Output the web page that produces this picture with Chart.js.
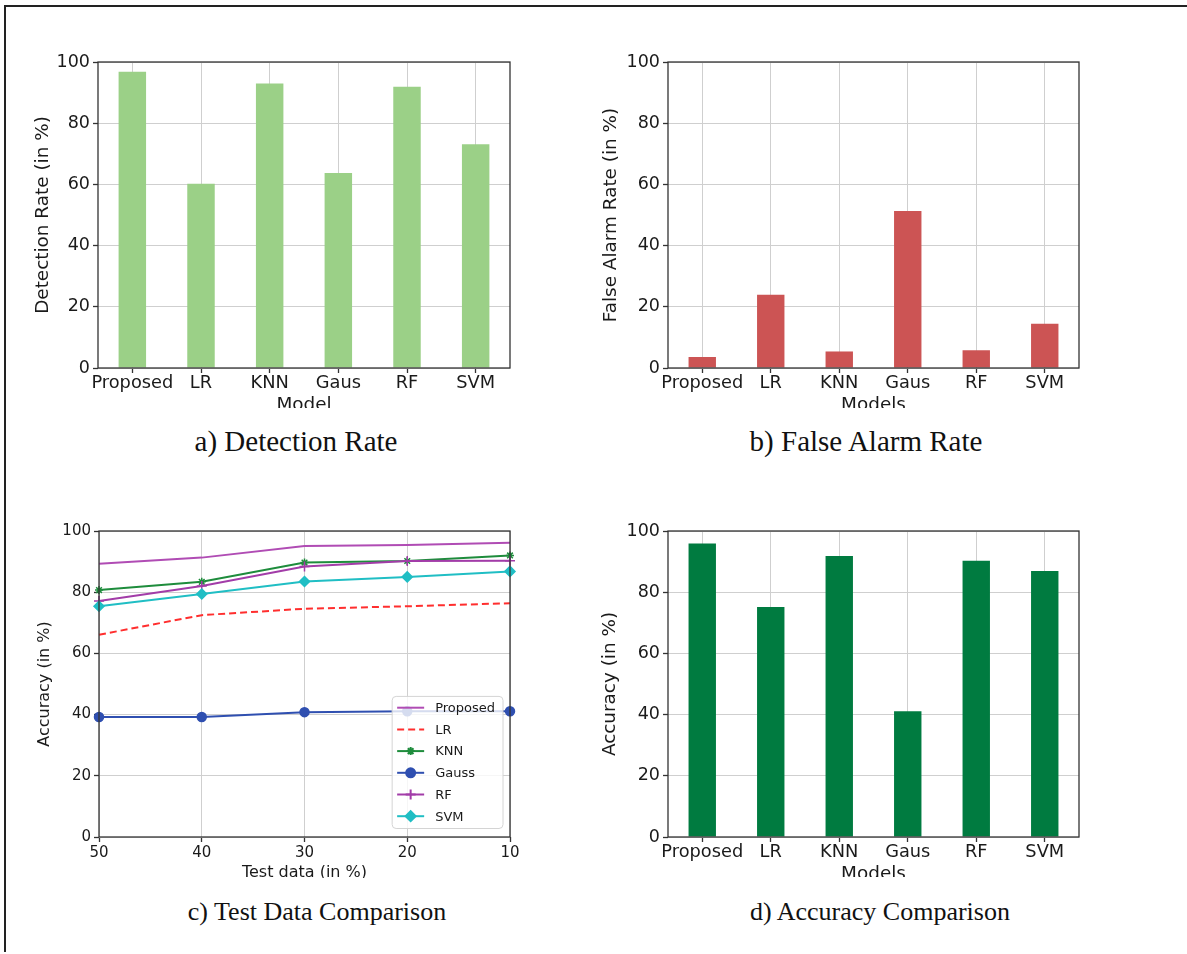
<!DOCTYPE html>
<html>
<head>
<meta charset="utf-8">
<script src="https://cdn.jsdelivr.net/npm/chart.js@4.4.1/dist/chart.umd.min.js"></script>
<style>
	body		{ margin: 0; background: #fff; width: 1187px; height: 954px; position: relative; overflow: hidden; }
	.rule		{ position: absolute; background: #222; }
	.panel		{ position: absolute; overflow: hidden; }
	.panel canvas	{ display: block; }
	.caption	{ position: absolute; font-family: 'Liberation Serif', 'Times New Roman', serif; line-height: 28px;
			  color: #111; white-space: nowrap; transform: translateX( -50% ); }
	.top-row	{ font-size: 29px; }
	.low-row	{ font-size: 26px; }
</style>
</head>
<body>

<div class="rule" style="left:4px; top:5px; width:1183px; height:2px;"></div>
<div class="rule" style="left:4px; top:5px; width:2px; height:947px;"></div>

<div class="panel" style="left:30px;  top:40px;  width:500px; height:368px;"><canvas id="detectChart"   width="500" height="376"></canvas></div>
<div class="panel" style="left:590px; top:40px;  width:500px; height:368px;"><canvas id="falseChart"    width="500" height="376"></canvas></div>
<div class="panel" style="left:30px;  top:510px; width:500px; height:368px;"><canvas id="testChart"     width="500" height="372"></canvas></div>
<div class="panel" style="left:590px; top:510px; width:500px; height:367px;"><canvas id="accuracyChart" width="500" height="375"></canvas></div>

<div class="caption top-row" style="left:296px; top:427px;">a) Detection Rate</div>
<div class="caption top-row" style="left:866px; top:427px;">b) False Alarm Rate</div>
<div class="caption low-row" style="left:317px; top:898px;">c) Test Data Comparison</div>
<div class="caption low-row" style="left:880px; top:898px;">d) Accuracy Comparison</div>

<script>
/****************************
 ****	data
 ****************************/

const	MODELS			= [ 'Proposed', 'LR', 'KNN', 'Gaus', 'RF', 'SVM' ];
const	DETECTION_RATE		= [ 96.8, 60.2, 93.0, 63.7, 91.9, 73.1 ];
const	FALSE_ALARM_RATE	= [  3.6, 23.9,  5.4, 51.3,  5.8, 14.5 ];
const	ACCURACY		= [ 95.9, 75.2, 91.8, 41.1, 90.3, 86.9 ];

const	TEST_SPLIT		= [ '50', '40', '30', '20', '10' ];
const	ACC_PROPOSED		= [ 89.3, 91.3, 95.1, 95.4, 96.2 ];
const	ACC_LR			= [ 66.1, 72.5, 74.6, 75.4, 76.4 ];
const	ACC_KNN			= [ 80.7, 83.4, 89.7, 90.2, 92.0 ];
const	ACC_GAUSS		= [ 39.2, 39.2, 40.8, 41.1, 41.1 ];
const	ACC_RF			= [ 77.1, 82.0, 88.4, 90.2, 90.3 ];
const	ACC_SVM			= [ 75.4, 79.4, 83.5, 85.0, 86.8 ];

const	SERIES_NAMES		= [ 'Proposed', 'LR', 'KNN', 'Gauss', 'RF', 'SVM' ];

const	Y_MIN	= 0;
const	Y_MAX	= 100;
const	Y_STEP	= 20;

const	GRID_COLOR	= '#cfcfcf';
const	TICK_COLOR	= '#333';
const	TEXT_COLOR	= '#1a1a1a';

Chart.defaults.font.family	= "'DejaVu Sans', sans-serif";
Chart.defaults.color		= TEXT_COLOR;

/****************************
 ****	plugins
 ****************************/

//	box round the plot area, like the axes spines
const	axesFrame	= {
	id: 'axesFrame',
	afterDatasetsDraw: function ( chart ) {
		let	a	= chart.chartArea;
		let	ctx	= chart.ctx;

		ctx.save();
		ctx.strokeStyle	= TICK_COLOR;
		ctx.lineWidth	= 1.3;
		ctx.strokeRect( a.left, a.top, a.right - a.left, a.bottom - a.top );
		ctx.restore();
	}
};

//	legend drawn inside the plot area, lower right corner
const	insideLegend	= {
	id: 'insideLegend',
	afterDraw: function ( chart, args, opts ) {
		if ( !opts.display )
			return;

		let	ctx	= chart.ctx;
		let	a	= chart.chartArea;
		let	sets	= chart.data.datasets;
		let	rowH	= 21.7;
		let	sample	= 27;

		ctx.save();
		ctx.font	= "13px 'DejaVu Sans'";

		let	textW	= 0;
		sets.forEach( ds => { textW = Math.max( textW, ctx.measureText( ds.label ).width ); } );

		let	boxW	= 5 + sample + 11 + textW + 8;
		let	boxH	= 11.3 + rowH * ( sets.length - 1 ) + 12.3;
		let	right	= a.right - 7;
		let	bottom	= a.bottom - 8.5;
		let	left	= right - boxW;
		let	top	= bottom - boxH;

		ctx.beginPath();
		ctx.roundRect( left, top, boxW, boxH, 4 );
		ctx.fillStyle	= 'rgba( 255, 255, 255, 0.8 )';
		ctx.fill();
		ctx.strokeStyle	= '#d4d4d4';
		ctx.lineWidth	= 1;
		ctx.stroke();

		sets.forEach( ( ds, i ) => {
			let	y	= top + 11.3 + rowH * i;
			let	x0	= left + 5;

			ctx.save();
			ctx.strokeStyle	= ds.borderColor;
			ctx.lineWidth	= ds.borderWidth;
			ctx.setLineDash( ds.borderDash || [] );
			ctx.beginPath();
			ctx.moveTo( x0, y );
			ctx.lineTo( x0 + sample, y );
			ctx.stroke();
			ctx.setLineDash( [] );

			if ( ds.pointRadius > 0 ) {
				ctx.fillStyle	= ds.pointBackgroundColor;
				ctx.strokeStyle	= ds.pointBorderColor;
				Chart.helpers.drawPoint( ctx, {
					pointStyle: ds.pointStyle,
					radius: ds.pointRadius,
					rotation: 0,
					borderWidth: ds.pointBorderWidth
				}, x0 + sample / 2, y );
			}
			ctx.restore();

			ctx.fillStyle		= TEXT_COLOR;
			ctx.textBaseline	= 'middle';
			ctx.fillText( ds.label, x0 + sample + 11, y + 1 );
		} );

		ctx.restore();
	}
};

/****************************
 ****	charts
 ****************************/

/******** valueAxis ********/

function valueAxis( title, tickSize, titleSize, titlePad, width ) {
	return {
		min: Y_MIN,
		max: Y_MAX,
		ticks: { stepSize: Y_STEP, font: { size: tickSize }, color: TEXT_COLOR, padding: 3 },
		grid: { color: GRID_COLOR, lineWidth: 1, tickLength: 5, tickColor: TICK_COLOR, tickWidth: 1.3 },
		border: { display: false },
		title: { display: true, text: title, font: { size: titleSize }, color: TEXT_COLOR, padding: { top: titlePad, bottom: 0 } },
		afterFit: scale => { scale.width = width; }
	};
}

/******** barChart ********/

function barChart( id, values, color, o ) {
	return new Chart( document.getElementById( id ), {
		type: 'bar',
		data: {
			labels: MODELS,
			datasets: [ {
				data: values,
				backgroundColor: color,
				barPercentage: 0.4,
				categoryPercentage: 1.0,
			} ],
		},
		options: {
			responsive: false,
			animation: false,
			layout: { padding: { top: o.top, right: o.right, left: 0, bottom: 0 } },
			plugins: {
				legend: { display: false },
				tooltip: { enabled: false },
				insideLegend: { display: false },
			},
			scales: {
				x: {
					grid: { offset: false, color: GRID_COLOR, lineWidth: 1, tickLength: 5, tickColor: TICK_COLOR, tickWidth: 1.3 },
					border: { display: false },
					ticks: { font: { size: 17.8 }, color: TEXT_COLOR, padding: 0, maxRotation: 0, autoSkip: false },
					title: { display: true, text: o.xTitle, font: { size: 18.4 }, color: TEXT_COLOR, padding: 0 },
					afterFit: scale => { scale.height = o.xHeight; }
				},
				y: valueAxis( o.yTitle, 17.5, 18.4, o.yPad, o.yWidth ),
			},
		},
		plugins: [ axesFrame ]
	});
}

/******** lineSet ********/

function lineSet( label, values, color, style, radius, dash ) {
	return {
		label: label,
		data: values,
		borderColor: color,
		borderWidth: 2,
		borderDash: dash,
		pointStyle: style,
		pointRadius: radius,
		pointBackgroundColor: color,
		pointBorderColor: color,
		pointBorderWidth: 1.5,
		tension: 0,
		fill: false,
	};
}

barChart( 'detectChart', DETECTION_RATE, '#9bd087', {
	top: 22, right: 20, xHeight: 48, yWidth: 68, yPad: 2,
	xTitle: 'Model', yTitle: 'Detection Rate (in %)'
});

barChart( 'falseChart', FALSE_ALARM_RATE, '#cc5454', {
	top: 22, right: 11, xHeight: 48, yWidth: 78, yPad: 10,
	xTitle: 'Models', yTitle: 'False Alarm Rate (in %)'
});

barChart( 'accuracyChart', ACCURACY, '#007b40', {
	top: 21, right: 11, xHeight: 48, yWidth: 78, yPad: 9,
	xTitle: 'Models', yTitle: 'Accuracy (in %)'
});

let	lineSets	= [
	lineSet( SERIES_NAMES[ 0 ], ACC_PROPOSED, '#b04cb4', 'circle',  0 ),
	lineSet( SERIES_NAMES[ 1 ], ACC_LR,       '#ff2e2e', 'circle',  0, [ 7, 4 ] ),
	lineSet( SERIES_NAMES[ 2 ], ACC_KNN,      '#1e8c3c', 'star',    4 ),
	lineSet( SERIES_NAMES[ 3 ], ACC_GAUSS,    '#2f4fb0', 'circle',  4.5 ),
	lineSet( SERIES_NAMES[ 4 ], ACC_RF,       '#a23ca8', 'cross',   5 ),
	lineSet( SERIES_NAMES[ 5 ], ACC_SVM,      '#20bec4', 'rectRot', 5 ),
];

//	later series on top
lineSets.forEach( ( ds, i ) => { ds.order = lineSets.length - i; } );

new Chart( document.getElementById( 'testChart' ), {
	type: 'line',
	data: {
		labels: TEST_SPLIT,
		datasets: lineSets,
	},
	options: {
		responsive: false,
		animation: false,
		layout: { padding: { top: 21, right: 20, left: 0, bottom: 0 } },
		plugins: {
			legend: { display: false },
			tooltip: { enabled: false },
			insideLegend: { display: true },
		},
		scales: {
			x: {
				offset: false,
				grid: { offset: false, color: GRID_COLOR, lineWidth: 1, tickLength: 5, tickColor: TICK_COLOR, tickWidth: 1.3 },
				border: { display: false },
				ticks: { font: { size: 15 }, color: TEXT_COLOR, padding: 2, maxRotation: 0, autoSkip: false },
				title: { display: true, text: 'Test data (in %)', font: { size: 16 }, color: TEXT_COLOR, padding: 0 },
				afterFit: scale => { scale.height = 45; }
			},
			y: valueAxis( 'Accuracy (in %)', 15, 16, 5, 69 ),
		},
	},
	plugins: [ axesFrame, insideLegend ]
});
</script>
</body>
</html>
